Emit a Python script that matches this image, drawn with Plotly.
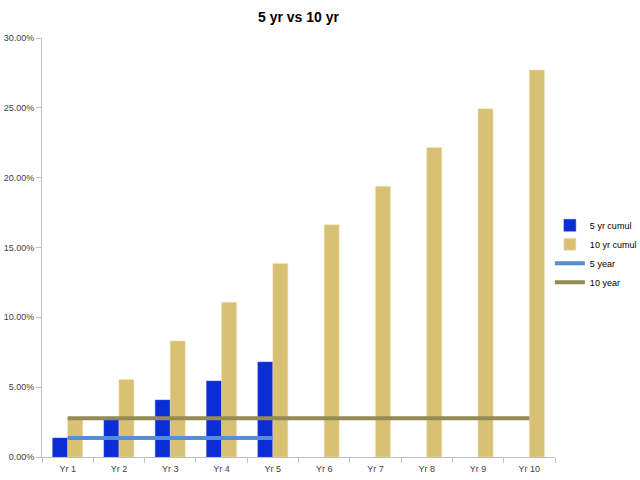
import plotly.graph_objects as go

years = ["Yr 1", "Yr 2", "Yr 3", "Yr 4", "Yr 5", "Yr 6", "Yr 7", "Yr 8", "Yr 9", "Yr 10"]
five_yr_cumul = [0.0136, 0.0272, 0.0408, 0.0544, 0.0680]
ten_yr_cumul = [0.0277, 0.0554, 0.0831, 0.1108, 0.1385, 0.1662, 0.1939, 0.2216, 0.2493, 0.2770]
five_year = [0.0136, 0.0136, 0.0136, 0.0136, 0.0136]
ten_year = [0.0277, 0.0277, 0.0277, 0.0277, 0.0277, 0.0277, 0.0277, 0.0277, 0.0277, 0.0277]

font = "Liberation Sans"

fig = go.Figure()
fig.add_trace(go.Bar(x=years[:5], y=five_yr_cumul, name="5 yr cumul",
                     marker=dict(color="#0A2DD4", line=dict(color="#3355EE", width=0.5))))
fig.add_trace(go.Bar(x=years, y=ten_yr_cumul, name="10 yr cumul",
                     marker=dict(color="#D9C174", line=dict(color="#EEE0B0", width=0.5))))
fig.add_trace(go.Scatter(x=years[:5], y=five_year, name="5 year", mode="lines",
                         line=dict(color="#558ED5", width=4)))
fig.add_trace(go.Scatter(x=years, y=ten_year, name="10 year", mode="lines",
                         line=dict(color="#948A54", width=4)))

fig.update_layout(
    width=640, height=480,
    margin=dict(l=42, r=85, t=38, b=23, autoexpand=False),
    paper_bgcolor="white", plot_bgcolor="white",
    title=dict(text="<b>5 yr vs 10 yr</b>", x=0.5, xanchor="center", xref="paper",
               y=0.965, yref="container", yanchor="middle",
               font=dict(family=font, size=14, color="#000000")),
    barmode="group", bargap=0.415, bargroupgap=0,
    font=dict(family=font, size=9, color="#404040"),
    legend=dict(x=0.99, y=0.485, xanchor="left", yanchor="middle", tracegroupgap=0,
                bgcolor="rgba(0,0,0,0)",
                font=dict(family=font, size=9, color="#000000"), itemwidth=30),
    xaxis=dict(showline=True, linecolor="#BFBFBF", ticks="outside", tickson="boundaries",
               tickcolor="#BFBFBF", ticklen=5, showgrid=False, automargin=False,
               ticklabelstandoff=3,
               tickfont=dict(size=9, color="#404040")),
    yaxis=dict(range=[0, 0.30], dtick=0.05, tickformat=".2%", showline=True, linecolor="#BFBFBF",
               ticks="outside", tickcolor="#BFBFBF", ticklen=5, showgrid=False, automargin=False,
               tickfont=dict(size=9, color="#404040")),
)

fig.write_html("out.html", config={"displayModeBar": False},
               post_script="document.body.style.margin='0';")
